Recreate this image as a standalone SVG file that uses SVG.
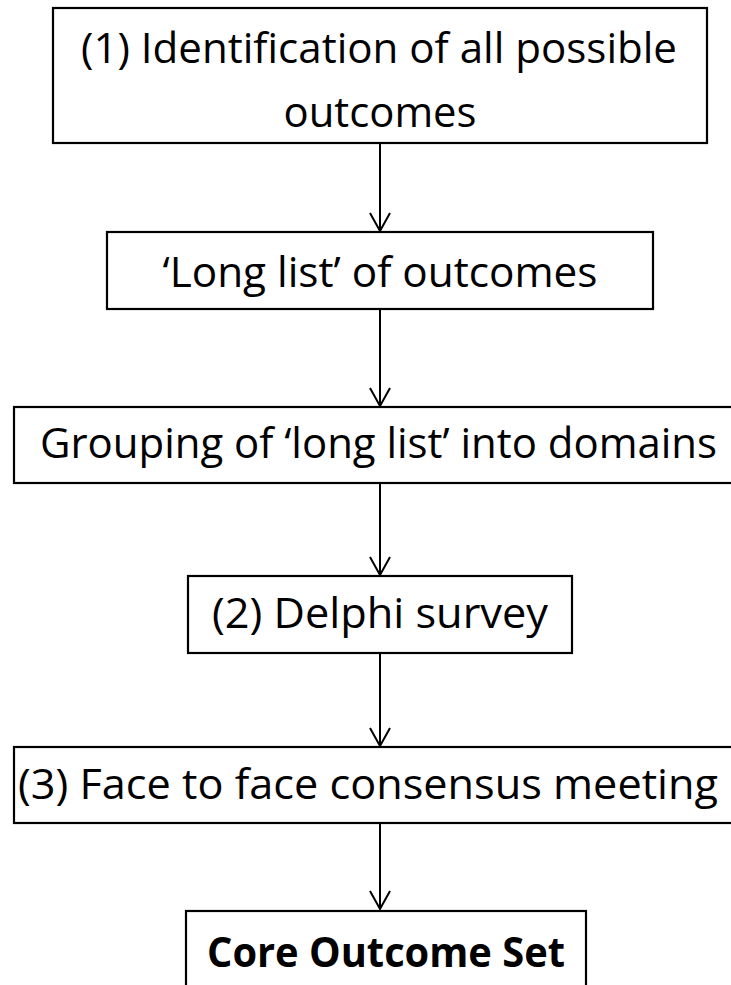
<svg xmlns="http://www.w3.org/2000/svg" width="731" height="985" viewBox="0 0 731 985">
  <style>
    .box { fill: #ffffff; stroke: #000000; stroke-width: 2.2; }
    .lbl { font-family: "Open Sans", "Noto Sans", sans-serif; font-size: 42px; fill: #000000; text-anchor: middle; }
    .bold { font-weight: bold; }
    .conn line { stroke: #000000; stroke-width: 2; }
    .conn polyline { fill: none; stroke: #000000; stroke-width: 2; }
  </style>
  <rect width="731" height="985" fill="#ffffff"/>
  <g id="node-identification">
    <rect class="box" x="53" y="8" width="654" height="135"/>
    <text class="lbl" x="379" y="63" textLength="596" lengthAdjust="spacingAndGlyphs">(1) Identification of all possible</text>
    <text class="lbl" x="380" y="127" textLength="193" lengthAdjust="spacingAndGlyphs">outcomes</text>
  </g>
  <g id="node-longlist">
    <rect class="box" x="107" y="232" width="546" height="77"/>
    <text class="lbl" x="380" y="287" textLength="435" lengthAdjust="spacingAndGlyphs">‘Long list’ of outcomes</text>
  </g>
  <g id="node-grouping">
    <rect class="box" x="14" y="407" width="732" height="76"/>
    <text class="lbl" x="378.5" y="458" textLength="677" lengthAdjust="spacingAndGlyphs">Grouping of ‘long list’ into domains</text>
  </g>
  <g id="node-delphi">
    <rect class="box" x="188" y="576" width="384" height="77"/>
    <text class="lbl" x="380" y="628" textLength="336" lengthAdjust="spacingAndGlyphs">(2) Delphi survey</text>
  </g>
  <g id="node-consensus">
    <rect class="box" x="14" y="747" width="732" height="76"/>
    <text class="lbl" x="368" y="799" textLength="700" lengthAdjust="spacingAndGlyphs">(3) Face to face consensus meeting</text>
  </g>
  <g id="node-core">
    <rect class="box" x="186" y="911" width="400" height="100"/>
    <text class="lbl bold" x="386" y="967" textLength="358" lengthAdjust="spacingAndGlyphs">Core Outcome Set</text>
  </g>
  <g id="connectors" class="conn">
    <line x1="380" y1="143" x2="380" y2="231"/>
    <polyline points="370,213 380,231 390,213"/>
    <line x1="380" y1="309" x2="380" y2="406"/>
    <polyline points="370,388 380,406 390,388"/>
    <line x1="380" y1="483" x2="380" y2="575"/>
    <polyline points="370,557 380,575 390,557"/>
    <line x1="380" y1="653" x2="380" y2="746"/>
    <polyline points="370,728 380,746 390,728"/>
    <line x1="380" y1="823" x2="380" y2="909"/>
    <polyline points="370,891 380,909 390,891"/>
  </g>
</svg>
